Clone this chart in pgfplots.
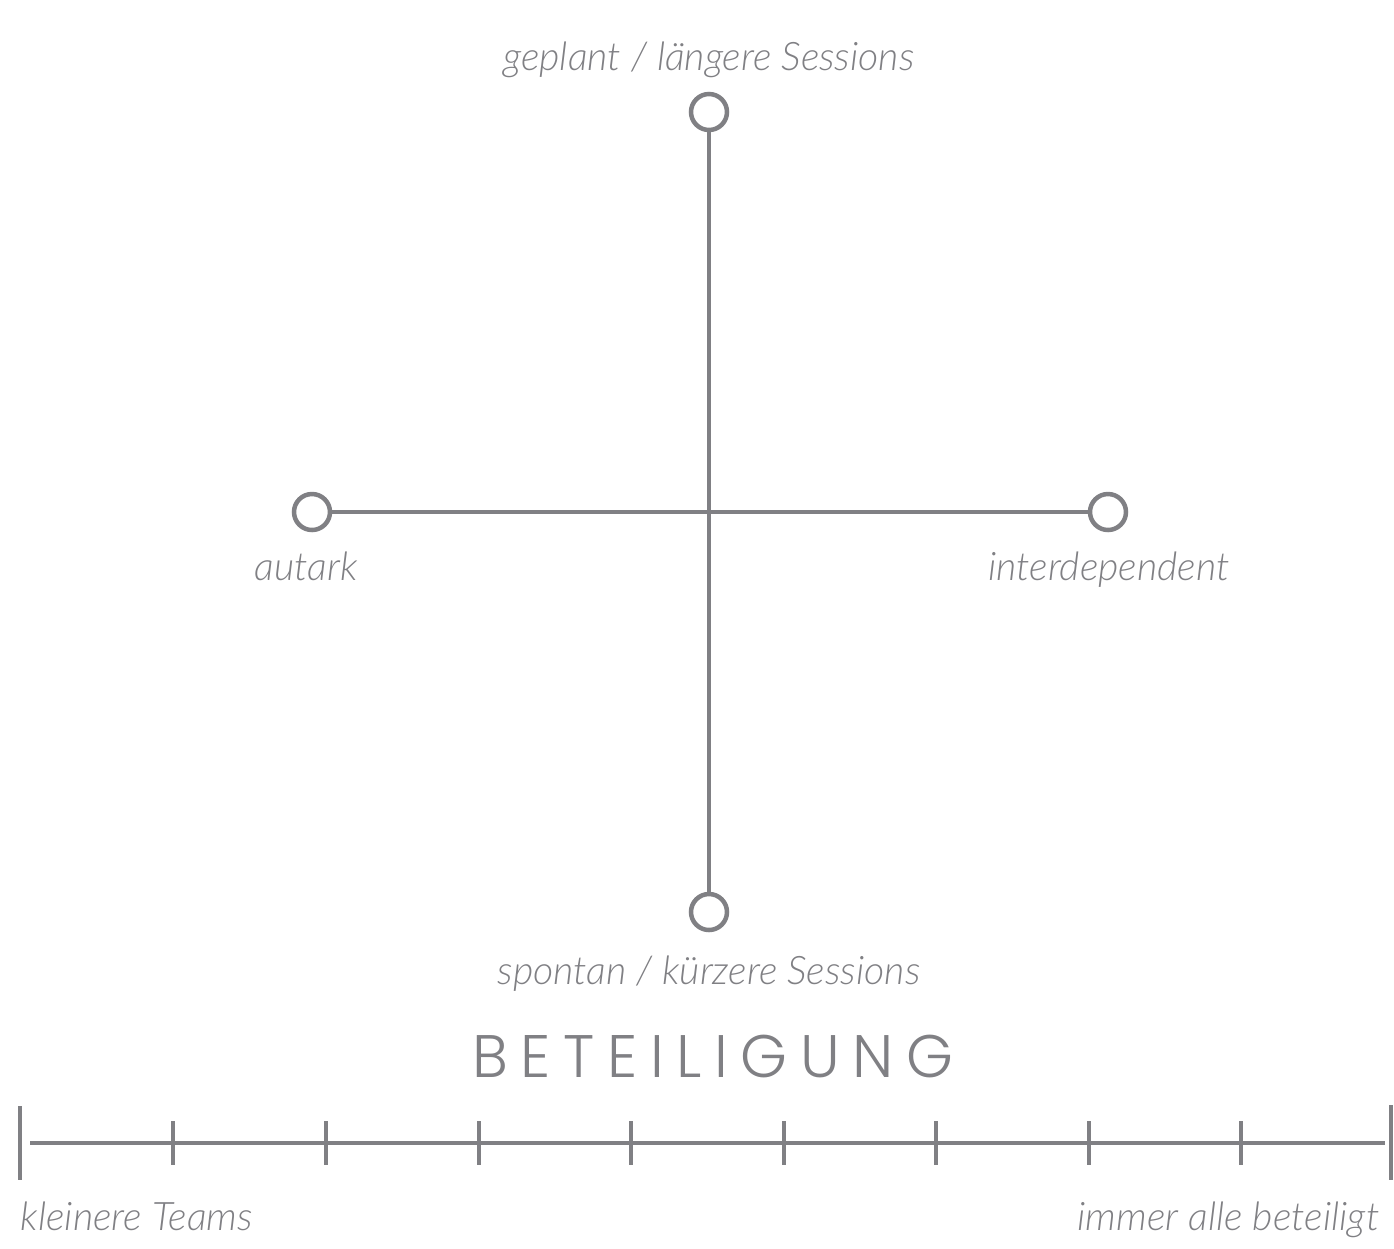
\documentclass[border=0pt]{standalone}
\usepackage{fontspec}
\usepackage{pgfplots}
\pgfplotsset{compat=1.18}
\definecolor{g}{RGB}{128,128,132}
\newfontfamily\lab{Lato Light Italic}
\newfontfamily\head{Poppins Light}[LetterSpace=21]
\begin{document}
\begin{tikzpicture}
\begin{axis}[scale only axis, width=418.2pt, height=374.4pt,
  xmin=0, xmax=1394, ymin=0, ymax=1248, y dir=reverse,
  axis lines=none, clip=false, unbounded coords=jump]
% cross
\addplot[g, line width=1.2pt] coordinates {(709,112) (709,912)};
\addplot[g, line width=1.2pt] coordinates {(312,512) (1108,512)};
% end circles
\addplot[only marks, mark=*, mark size=5.4pt,
  mark options={draw=g, fill=white, line width=1.35pt}]
  coordinates {(709,112) (709,912) (312,512) (1108,512)};
% scale bar
\addplot[g, line width=1.2pt] coordinates {(30,1143) (1385,1143)};
\addplot[g, line width=1.4pt] coordinates {(20,1106) (20,1180) (20,nan) (1391,1105) (1391,1180)};
\addplot[g, line width=1.4pt] coordinates {
 (173,1121) (173,1165) (173,nan)
 (326,1121) (326,1165) (326,nan)
 (479,1121) (479,1165) (479,nan)
 (631,1121) (631,1165) (631,nan)
 (784,1121) (784,1165) (784,nan)
 (936,1121) (936,1165) (936,nan)
 (1089,1121) (1089,1165) (1089,nan)
 (1241,1121) (1241,1165)};
% labels
\tikzset{lb/.style={text=g, font=\lab\fontsize{11.8}{13}\selectfont}}
\node[anchor=base, lb] at (axis cs:709,70) {geplant / längere Sessions};
\node[anchor=base, lb] at (axis cs:709,984) {spontan / kürzere Sessions};
\node[anchor=base, lb] at (axis cs:306,580) {autark};
\node[anchor=base, lb] at (axis cs:1109,580) {interdependent};
\node[anchor=base west, inner xsep=0pt, lb] at (axis cs:20,1230) {kleinere Teams};
\node[anchor=base east, inner xsep=0pt, lb] at (axis cs:1380,1230) {immer alle beteiligt};
\node[anchor=base, text=g, font=\head\fontsize{18}{20}\selectfont] at (axis cs:713,1077) {BETEILIGUNG};
\end{axis}
\path[use as bounding box] (0,0) rectangle (418.2pt,374.4pt);
\end{tikzpicture}
\end{document}
